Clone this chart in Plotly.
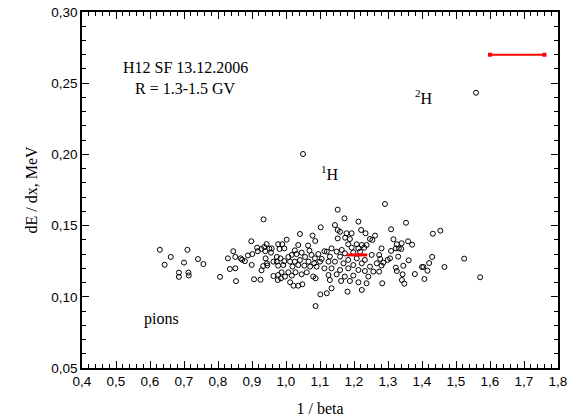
import plotly.graph_objects as go

# (1/beta, dE/dx) pairs
pts_left = [
    (0.629, 0.133), (0.643, 0.1225), (0.661, 0.128), (0.685, 0.117), (0.685, 0.114),
    (0.700, 0.124), (0.710, 0.133), (0.713, 0.117), (0.714, 0.115), (0.741, 0.1265),
    (0.757, 0.123), (0.806, 0.114), (0.829, 0.127), (0.835, 0.1195), (0.845, 0.132),
    (0.851, 0.128), (0.851, 0.120), (0.853, 0.111), (0.867, 0.127), (0.871, 0.126),
    (0.879, 0.125), (0.888, 0.129),
]
pts_a = [
    (0.934, 0.1544), (0.898, 0.139), (0.943, 0.137), (0.901, 0.130), (0.915, 0.1345),
    (0.917, 0.132), (0.928, 0.1336), (0.936, 0.135), (0.939, 0.132), (0.951, 0.1338),
    (0.956, 0.131), (0.958, 0.134), (0.940, 0.127), (0.944, 0.1235), (0.933, 0.1216),
    (0.928, 0.1186), (0.945, 0.122), (0.963, 0.1247), (0.963, 0.1146), (0.899, 0.1224),
    (0.906, 0.1123), (0.925, 0.112),
]
pts_b = [
    (1.102, 0.1488), (1.041, 0.1441), (1.078, 0.143), (1.086, 0.1392), (1.002, 0.1401),
    (0.977, 0.1369), (0.989, 0.1369), (1.036, 0.1364), (1.065, 0.136), (0.981, 0.1336),
    (0.995, 0.134), (1.026, 0.1326), (1.046, 0.131), (1.069, 0.1324), (1.075, 0.1294),
    (1.095, 0.130), (1.113, 0.132), (0.973, 0.128), (0.984, 0.127), (1.007, 0.128),
    (1.017, 0.1294), (1.031, 0.130), (1.056, 0.128), (1.085, 0.127), (1.105, 0.1266),
    (0.973, 0.1247), (0.995, 0.125), (1.012, 0.1247), (1.026, 0.1247), (1.041, 0.1258),
    (1.066, 0.1247), (1.083, 0.1235), (1.100, 0.1247), (0.977, 0.1219), (0.992, 0.1223),
    (1.019, 0.1212), (1.036, 0.1223), (1.054, 0.1219), (1.071, 0.1212), (1.090, 0.1212),
    (1.113, 0.120), (0.987, 0.1172), (1.007, 0.1172), (1.028, 0.1172), (1.046, 0.1158),
    (1.061, 0.1172), (0.977, 0.1153), (0.997, 0.1142), (1.017, 0.1149), (0.976, 0.1118),
    (0.985, 0.113), (1.012, 0.1102), (1.022, 0.1078), (1.036, 0.1078), (1.048, 0.1088),
    (1.080, 0.1142), (1.087, 0.113), (1.101, 0.1017), (1.087, 0.0935), (1.050, 0.2003),
]
pts_c = [
    (1.152, 0.1612), (1.172, 0.1551), (1.213, 0.1528), (1.144, 0.1504), (1.152, 0.1469),
    (1.159, 0.1457), (1.178, 0.1446), (1.193, 0.1446), (1.221, 0.1469), (1.234, 0.1446),
    (1.152, 0.141), (1.174, 0.1415), (1.188, 0.1406), (1.247, 0.1406), (1.254, 0.1399),
    (1.183, 0.1369), (1.208, 0.1369), (1.223, 0.1364), (1.237, 0.1364), (1.193, 0.1345),
    (1.213, 0.134), (1.230, 0.1345), (1.134, 0.134), (1.120, 0.1317), (1.149, 0.1317),
    (1.164, 0.1329), (1.173, 0.1305), (1.198, 0.1312), (1.218, 0.1317), (1.252, 0.1294),
    (1.129, 0.1282), (1.159, 0.1282), (1.183, 0.1259), (1.208, 0.127), (1.232, 0.1259),
    (1.125, 0.1247), (1.144, 0.1247), (1.169, 0.1235), (1.198, 0.1223), (1.223, 0.1235),
    (1.247, 0.1212), (1.134, 0.120), (1.159, 0.1188), (1.183, 0.120), (1.213, 0.1188),
    (1.232, 0.1181), (1.257, 0.1177), (1.125, 0.1153), (1.149, 0.1158), (1.173, 0.1142),
    (1.198, 0.1149), (1.242, 0.1142), (1.129, 0.1118), (1.162, 0.1111), (1.188, 0.1111),
    (1.213, 0.1102), (1.237, 0.1095), (1.120, 0.1025), (1.134, 0.106), (1.181, 0.1036),
    (1.223, 0.1048),
]
pts_d = [
    (1.291, 0.1652), (1.309, 0.1474), (1.316, 0.1404), (1.262, 0.143), (1.326, 0.1369),
    (1.332, 0.134), (1.323, 0.134), (1.309, 0.1322), (1.281, 0.134), (1.274, 0.1294),
    (1.277, 0.1266), (1.330, 0.1282), (1.306, 0.127), (1.299, 0.1259), (1.286, 0.124),
    (1.267, 0.1235), (1.281, 0.1219), (1.323, 0.1205), (1.326, 0.1181), (1.274, 0.1177),
    (1.283, 0.1095),
]
pts_right = [
    (1.353, 0.152), (1.340, 0.1376), (1.359, 0.139), (1.371, 0.1366), (1.339, 0.1336),
    (1.361, 0.1256), (1.345, 0.1218), (1.343, 0.1158), (1.341, 0.1118), (1.348, 0.1092),
    (1.379, 0.116), (1.400, 0.1209), (1.404, 0.121), (1.407, 0.1125), (1.416, 0.1183),
    (1.421, 0.1237), (1.430, 0.128), (1.432, 0.1443), (1.454, 0.1464), (1.466, 0.1209),
    (1.524, 0.1268), (1.571, 0.1137), (1.559, 0.2433),
]

all_pts = pts_left + pts_a + pts_b + pts_c + pts_d + pts_right
inv_beta = [p[0] for p in all_pts]
dedx = [p[1] for p in all_pts]

bar1_x = [1.60, 1.76]
bar1_y = [0.27, 0.27]
bar2_x = [1.178, 1.239]
bar2_y = [0.1294, 0.1294]

serif = "Liberation Serif"
sans = "Liberation Sans"

fig = go.Figure()
fig.add_trace(go.Scatter(
    x=inv_beta, y=dedx, mode="markers",
    marker=dict(symbol="circle-open", size=5, color="black", line=dict(width=1, color="black")),
    showlegend=False, hoverinfo="skip"))
fig.add_trace(go.Scatter(
    x=bar1_x, y=bar1_y, mode="lines+markers",
    line=dict(color="red", width=2),
    marker=dict(symbol="square", size=4, color="red"),
    showlegend=False))
fig.add_trace(go.Scatter(
    x=bar2_x, y=bar2_y, mode="lines",
    line=dict(color="red", width=3),
    showlegend=False))

annots = [
    (0.703, 0.2607, "H12 SF 13.12.2006"),
    (0.703, 0.2466, "R = 1.3-1.5 GV"),
    (1.129, 0.187, "<sup>1</sup>H"),
    (1.406, 0.240, "<sup>2</sup>H"),
    (0.635, 0.0844, "pions"),
]
for ax_, ay_, t in annots:
    fig.add_annotation(x=ax_, y=ay_, text=t, showarrow=False,
                       font=dict(family=serif, size=16, color="black"))

axis_common = dict(
    showgrid=False, zeroline=False, showline=True, linecolor="black", linewidth=1.5,
    mirror="allticks", ticks="inside", ticklen=7, tickwidth=1.2, tickcolor="black",
    tickfont=dict(family=sans, size=13.5, color="black"), automargin=False,
)
fig.update_xaxes(range=[0.4, 1.8], dtick=0.1, tick0=0.4, tickformat=".1f",
                 minor=dict(dtick=0.02, ticks="inside", ticklen=4, tickcolor="black", tickwidth=1),
                 title=dict(text="1 / beta", font=dict(family=serif, size=16, color="black"), standoff=15),
                 **axis_common)
fig.update_yaxes(range=[0.05, 0.30], dtick=0.05, tick0=0.05, tickformat=".2f",
                 minor=dict(dtick=0.01, ticks="inside", ticklen=4, tickcolor="black", tickwidth=1),
                 title=dict(text="dE / dx, MeV", font=dict(family=serif, size=16, color="black"), standoff=10),
                 **axis_common)
fig.update_layout(
    width=568, height=419, separators=", ",
    margin=dict(l=82, r=10, t=12, b=51),
    plot_bgcolor="white", paper_bgcolor="white",
)
fig.write_html("out.html")
